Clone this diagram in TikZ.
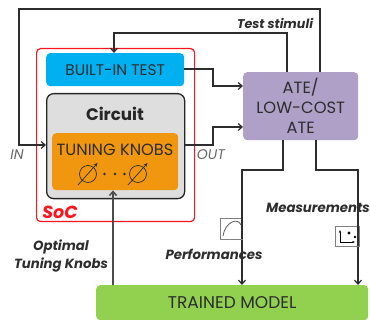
\documentclass[tikz,border=0pt]{standalone}
\usepackage{fontspec}
\setmainfont{Poppins}
\usetikzlibrary{arrows.meta,calc}
\definecolor{socred}{RGB}{255,20,30}
\definecolor{bitblue}{RGB}{0,176,240}
\definecolor{circgray}{RGB}{222,222,222}
\definecolor{knoborange}{RGB}{240,150,15}
\definecolor{atepurple}{RGB}{175,160,200}
\definecolor{modelgreen}{RGB}{146,208,80}
\definecolor{inkdark}{RGB}{45,45,45}
\tikzset{
 x=1pt,y=1pt,
 blockbox/.style={rounded corners=4pt,inner sep=0pt,anchor=north west,align=center,text=inkdark},
 wire/.style={draw=inkdark,line width=1.2pt},
 arrowwire/.style={wire,-{Straight Barb[length=4pt,width=7pt]}},
 boldlabel/.style={font=\fontsize{13.3}{18}\selectfont\bfseries\itshape,text=inkdark,align=center,inner sep=0pt},
 plainlabel/.style={font=\fontsize{14}{16}\selectfont\itshape,text=gray!80!black,inner sep=0pt},
 iconbox/.style={draw=gray,line width=.8pt,fill=white,inner sep=0pt,anchor=north west},
 dotmark/.style={circle,fill=inkdark,minimum size=2.6pt,inner sep=0pt},
}
\begin{document}
\begin{tikzpicture}
\useasboundingbox (0,0) rectangle (370,320);
\node[blockbox,draw=socred,line width=1.2pt,minimum width=158pt,minimum height=173pt] (soc) at (36,272) {};
\node[blockbox,fill=bitblue,minimum width=138pt,minimum height=33pt,font=\fontsize{15.4}{18}\selectfont] (bit) at (46,267) {BUILT-IN TEST};
\node[blockbox,fill=circgray,draw=black!85,line width=1.3pt,rounded corners=7pt,minimum width=138pt,minimum height=105pt] (circ) at (46,227) {};
\node[font=\fontsize{16.7}{18}\selectfont\bfseries,text=black!85,inner sep=0pt] (circt) at (115,206) {Circuit};
\node[blockbox,fill=knoborange,minimum width=126pt,minimum height=57pt] (knob) at (52,187) {};
\node[font=\fontsize{16.2}{18}\selectfont,text=inkdark,inner sep=0pt] (knobt) at (115,170) {TUNING KNOBS};
\node[dotmark] (d1) at (104.5,146) {};
\node[dotmark] (d2) at (115,146) {};
\node[dotmark] (d3) at (124.5,146) {};
\foreach \n/\cx in {ka/88,kb/138}{
 \node[circle,draw=inkdark,line width=.7pt,minimum size=17pt,inner sep=0pt] (\n) at (\cx,146) {};
 \coordinate (\n s) at (\cx-10,135);
 \coordinate (\n e) at (\cx+9.5,157);
 \draw[draw=inkdark,line width=.7pt,-{Stealth[length=4pt,width=3.5pt]}] (\n s) -- (\n e);
}
\node[blockbox,fill=atepurple,minimum width=115pt,minimum height=68pt,font=\fontsize{16.3}{20}\selectfont] (ate) at (243,248) {ATE/\\LOW-COST\\ATE};
\node[blockbox,fill=modelgreen,minimum width=272pt,minimum height=35pt,font=\fontsize{17}{20}\selectfont] (model) at (96,35) {TRAINED MODEL};
% connectors
\coordinate (inA) at (320,311);
\coordinate (inB) at (19,311);
\coordinate (inC) at (19,175);
\draw[arrowwire] (ate.north west -| inA) -- (inA) -- (inB) -- (inC) -- (inC -| circ.west);
\coordinate (stA) at (287,287);
\coordinate (stB) at (114,287);
\draw[arrowwire] (ate.north west -| stA) -- (stA) -- (stB) -- (stB |- bit.north);
\coordinate (bA) at (213,251);
\coordinate (bB) at (213,234);
\draw[arrowwire] (bit.east |- bA) -- (bA) -- (bB) -- (bB -| ate.west);
\coordinate (oA) at (213,175);
\coordinate (oB) at (213,193);
\draw[arrowwire] (oA -| circ.east) -- (oA) -- (oB) -- (oB -| ate.west);
\coordinate (pA) at (283,150);
\coordinate (pB) at (242,150);
\draw[arrowwire] (ate.south west -| pA) -- (pA) -- (pB) -- (pB |- model.north);
\coordinate (mA) at (316,150);
\coordinate (mB) at (358,150);
\draw[arrowwire] (ate.south west -| mA) -- (mA) -- (mB) -- (mB |- model.north);
\coordinate (kA) at (113,35);
\draw[draw=inkdark!85,line width=1.5pt,-{Straight Barb[length=4pt,width=7pt]}] (kA) -- (kA |- knob.south);
% icons
\node[iconbox,minimum width=22pt,minimum height=21pt] (ic1) at (220,102) {};
\draw[draw=gray!70!black,line width=.8pt] (223,84) .. controls (225,98) and (238,103) .. (241,95);
\node[iconbox,minimum width=24pt,minimum height=20pt] (ic2) at (335,94) {};
\draw[draw=black,line width=.9pt,{Stealth[length=3pt]}-{Stealth[length=3pt]}] (340,90) -- (340,78) -- (355,78);
\fill[black] (349,87) circle (1.6pt) (355,83) circle (1.3pt);
\draw[draw=inkdark,line width=1.2pt] (242,102) -- (242,81);
\draw[draw=inkdark,line width=1.2pt] (358,94) -- (358,74);
% labels
\node[plainlabel] (inl) at (17,165) {IN};
\node[plainlabel] (outl) at (211,165) {OUT};
\node[font=\fontsize{17.5}{20}\selectfont\bfseries\itshape,text=socred,inner sep=0pt] (socl) at (60,108) {SoC};
\node[boldlabel,font=\fontsize{12.7}{15}\selectfont\bfseries\itshape] (ts) at (275,297) {Test stimuli};
\node[boldlabel] (ot) at (61,63.5) {Optimal\\Tuning Knobs};
\node[boldlabel] (perf) at (214,66) {Performances};
\node[boldlabel] (meas) at (318,112) {Measurements};
\end{tikzpicture}
\end{document}
